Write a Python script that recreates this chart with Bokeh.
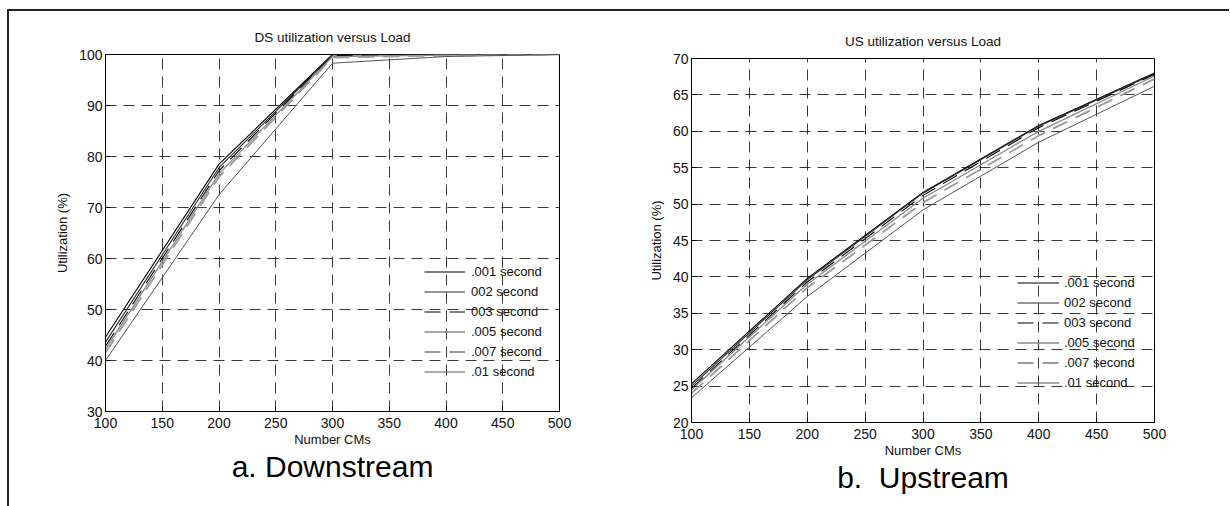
from bokeh.plotting import figure
from bokeh.models import Title, Legend, LegendItem, FixedTicker, Range1d, Row
from bokeh.embed import file_html
from bokeh.resources import INLINE

# ---------------- data ----------------
n_cms = [100, 200, 300, 400, 500]
series_labels = [".001 second", "002 second", "003 second", ".005 second", ".007 second", ".01 second"]

ds_001 = [44.6, 78.5, 100.0, 100.0, 100.0]
ds_002 = [43.6, 77.8, 99.9, 100.0, 100.0]
ds_003 = [42.8, 77.2, 99.8, 100.0, 100.0]
ds_005 = [42.2, 76.6, 99.6, 99.9, 100.0]
ds_007 = [41.5, 76.0, 99.4, 99.8, 100.0]
ds_010 = [40.0, 72.5, 98.3, 99.6, 100.0]

us_001 = [25.3, 39.8, 51.6, 60.8, 68.0]
us_002 = [25.0, 39.6, 51.5, 60.7, 67.9]
us_003 = [24.7, 39.3, 51.2, 60.5, 67.8]
us_005 = [24.5, 39.0, 50.8, 60.0, 67.6]
us_007 = [24.0, 38.5, 50.2, 59.4, 67.2]
us_010 = [23.4, 37.3, 49.2, 58.5, 66.2]

x_ticks = [100, 150, 200, 250, 300, 350, 400, 450, 500]
ds_y_ticks = [30, 40, 50, 60, 70, 80, 90, 100]
us_y_ticks = [20, 25, 30, 35, 40, 45, 50, 55, 60, 65, 70]

FONT = "Liberation Sans"
line_styles = [
    dict(line_color="#000000", line_width=1.1, line_dash="solid"),
    dict(line_color="#2a2a2a", line_width=1.1, line_dash="solid"),
    dict(line_color="#000000", line_width=1.1, line_dash="16 9"),
    dict(line_color="#8a8a8a", line_width=1.3, line_dash="solid"),
    dict(line_color="#9a9a9a", line_width=1.8, line_dash="16 9"),
    dict(line_color="#555555", line_width=1.0, line_dash="solid"),
]


def make_caption(text):
    kw = dict(text=text, align="center", text_font=FONT, text_font_size="30px",
              text_font_style="normal", text_color="#000000")
    try:
        return Title(standoff=-3, **kw)
    except Exception:
        return Title(standoff=0, **kw)


def make_chart(series, y_ticks, title, caption, width, height, left, right,
               legend_loc, glyph_w, label_standoff, ylabel_standoff, title_standoff):
    p = figure(width=width, height=height, output_backend="svg", toolbar_location=None,
               x_range=Range1d(x_ticks[0], x_ticks[-1]),
               y_range=Range1d(y_ticks[0], y_ticks[-1]),
               min_border_left=left, min_border_right=right,
               min_border_top=43, min_border_bottom=84)
    p.background_fill_color = "white"
    p.border_fill_color = "white"
    p.outline_line_color = "black"
    p.outline_line_width = 1
    p.outline_line_alpha = 1

    p.title.text = title
    p.title.align = "center"
    p.title.text_font = FONT
    p.title.text_font_size = "13.5px"
    p.title.text_font_style = "normal"
    p.title.text_color = "#111111"
    p.title.standoff = title_standoff

    for ax in (p.xaxis[0], p.yaxis[0]):
        ax.major_label_text_font = FONT
        ax.major_label_text_font_size = "14px"
        ax.major_label_text_color = "#111111"
        ax.axis_label_text_font = FONT
        ax.axis_label_text_font_size = "13px"
        ax.axis_label_text_font_style = "normal"
        ax.axis_label_text_color = "#111111"
        ax.axis_line_color = "black"
        ax.major_tick_in = 5
        ax.major_tick_out = 0
        ax.minor_tick_in = 0
        ax.minor_tick_out = 0
        ax.major_tick_line_color = "black"
        ax.major_label_standoff = 3
    p.xaxis[0].ticker = FixedTicker(ticks=x_ticks)
    p.yaxis[0].ticker = FixedTicker(ticks=y_ticks)
    p.xaxis[0].axis_label = "Number CMs"
    p.xaxis[0].major_label_standoff = 6
    p.xaxis[0].axis_label_standoff = 1
    p.yaxis[0].axis_label = "Utilization (%)"
    p.yaxis[0].axis_label_standoff = ylabel_standoff

    for g in (p.xgrid[0], p.ygrid[0]):
        g.grid_line_color = "#222222"
        g.grid_line_dash = "11 7"
        g.grid_line_width = 1
        g.grid_line_alpha = 0.9

    items = []
    for lab, ys, st in zip(series_labels, series, line_styles):
        r = p.line(n_cms, ys, **st)
        items.append(LegendItem(label=lab, renderers=[r]))

    leg = Legend(items=items, location=legend_loc, background_fill_alpha=0,
                 border_line_alpha=0, padding=0, margin=0, spacing=3,
                 glyph_height=17, glyph_width=glyph_w, label_height=17,
                 label_standoff=label_standoff, label_text_font=FONT,
                 label_text_font_size="13px", label_text_color="#111111")
    p.add_layout(leg)

    p.add_layout(make_caption(caption), "below")
    return p


p1 = make_chart([ds_001, ds_002, ds_003, ds_005, ds_007, ds_010], ds_y_ticks,
                "DS utilization versus Load", "a. Downstream",
                600, 484, 96, 50, (319, 31), 41, 6, 6, 20)
p2 = make_chart([us_001, us_002, us_003, us_005, us_007, us_010], us_y_ticks,
                "US utilization versus Load", "b.\u00a0 Upstream",
                620, 491, 82, 75, (326, 31), 42, 5, 6, 19)
p2.margin = (4, 0, 0, 0)

layout = Row(children=[p1, p2], spacing=0,
             styles={"margin-left": "7px", "margin-top": "9px",
                     "border-top": "2px solid #222222",
                     "border-left": "2px solid #222222"})

open("out.html", "w").write(file_html(layout, INLINE))
